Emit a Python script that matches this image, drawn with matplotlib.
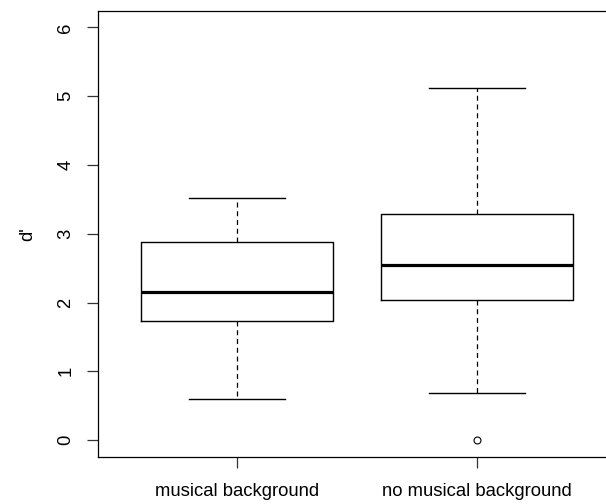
import matplotlib
matplotlib.use("Agg")
import matplotlib.pyplot as plt

plt.rcParams["font.family"] = ["Liberation Sans", "DejaVu Sans"]

# five-number summaries
groups = ["musical background", "no musical background"]
whisker_low = [0.59, 0.69]
q1 = [1.73, 2.04]
medians = [2.15, 2.55]
q3 = [2.88, 3.29]
whisker_high = [3.52, 5.12]
outliers = [[], [0.0]]

stats = []
for i in range(len(groups)):
    stats.append({
        "label": groups[i],
        "whislo": whisker_low[i],
        "q1": q1[i],
        "med": medians[i],
        "q3": q3[i],
        "whishi": whisker_high[i],
        "fliers": outliers[i],
    })

fig = plt.figure(figsize=(6.06, 5.04), dpi=100)
# the right edge of the frame runs off the image, as in the original
ax = fig.add_axes([0.1617, 0.0942, 0.8543, 0.884])

ax.bxp(stats, positions=[1, 2], widths=0.8,
       boxprops=dict(color="black", linewidth=1.0),
       medianprops=dict(color="black", linewidth=2.3, solid_capstyle="butt"),
       whiskerprops=dict(color="black", linewidth=0.9, linestyle=(0, (4, 3))),
       capprops=dict(color="black", linewidth=1.0),
       capwidths=0.4,
       flierprops=dict(marker="o", markersize=5, markerfacecolor="white",
                       markeredgecolor="black", markeredgewidth=0.8))

ax.set_xlim(0.42, 2.58)
ax.set_ylim(-0.24, 6.24)
ax.set_yticks([0, 1, 2, 3, 4, 5, 6])
ax.set_xticks([1, 2])
ax.set_xticklabels(groups)

ax.tick_params(axis="both", length=8, width=0.9, labelsize=13.3, color="#333333")
ax.tick_params(axis="y", pad=9, labelrotation=90)
ax.tick_params(axis="x", pad=11)
for t in ax.get_yticklabels():
    t.set_va("center")

ax.set_ylabel("d'", fontsize=13.3)
ax.yaxis.set_label_coords(-0.12, 0.5)

for s in ax.spines.values():
    s.set_linewidth(0.9)

fig.savefig("out.png", dpi=100)
